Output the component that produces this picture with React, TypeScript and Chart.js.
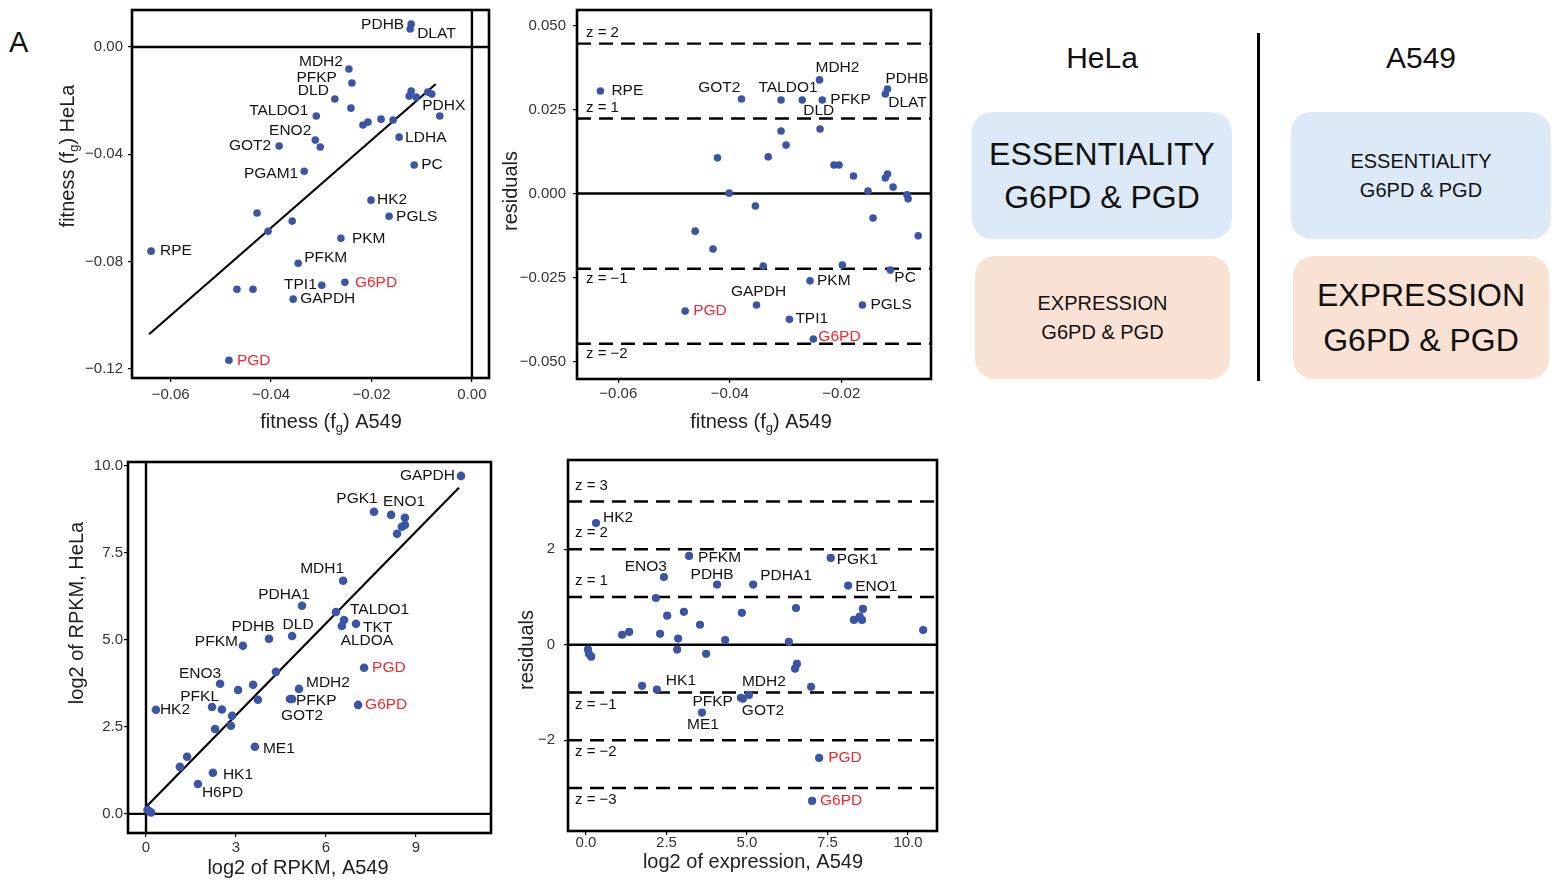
import React, { useEffect, useRef } from 'react';
import { Chart, registerables } from 'chart.js';
Chart.register(...registerables);

const FONT = '"Liberation Sans", Arial, Helvetica, sans-serif';
const DOT = '#3a55a5';
const RED = '#ec2a2f';
const RED_GENES = ['G6PD', 'PGD'];

// ---------- Panel 1: fitness HeLa vs A549 ----------
const p1Genes = ['PDHB', 'DLAT', 'MDH2', 'PFKP', 'DLD', '', 'TALDO1', 'ENO2', '', 'GOT2', 'PGAM1', '', '', '', '', '', '', '', '', '', 'PDHX', 'LDHA', 'PC', 'HK2', 'PGLS', '', '', '', 'PKM', 'RPE', 'PFKM', 'TPI1', 'G6PD', '', '', 'GAPDH', 'PGD'];
const p1FitA549 = [-0.0121, -0.0123, -0.0245, -0.0239, -0.0273, -0.0241, -0.031, -0.0312, -0.0302, -0.0384, -0.0334, -0.0217, -0.0207, -0.0181, -0.0157, -0.0121, -0.0125, -0.0111, -0.0088, -0.008, -0.0064, -0.0145, -0.0115, -0.0201, -0.0165, -0.0428, -0.0358, -0.0406, -0.0261, -0.0639, -0.0346, -0.0299, -0.0253, -0.0468, -0.0436, -0.0356, -0.0484];
const p1FitHeLa = [0.0086, 0.0067, -0.0082, -0.0134, -0.0194, -0.0228, -0.0257, -0.0347, -0.0373, -0.0369, -0.0463, -0.0291, -0.028, -0.0269, -0.0272, -0.0164, -0.0183, -0.0187, -0.0168, -0.0175, -0.0257, -0.0336, -0.044, -0.0571, -0.0631, -0.0619, -0.0649, -0.0687, -0.0713, -0.0761, -0.0806, -0.0888, -0.0877, -0.0903, -0.0903, -0.094, -0.1168];
const p1XTicks = [-0.06, -0.04, -0.02, 0.0];
const p1XTickLabels = ['\u22120.06', '\u22120.04', '\u22120.02', '0.00'];
const p1YTicks = [0.0, -0.04, -0.08, -0.12];
const p1YTickLabels = ['0.00', '\u22120.04', '\u22120.08', '\u22120.12'];
const p1FitLineX = [-0.0643, -0.0072];
const p1FitLineY = [-0.1071, -0.0138];

// ---------- Panel 2: residuals of fitness ----------
const p2Genes = ['RPE', 'GOT2', 'TALDO1', 'DLD', 'MDH2', 'PFKP', '', 'PDHB', 'DLAT', '', '', '', '', '', '', '', '', '', '', '', '', '', '', '', '', '', '', '', '', '', 'PC', 'PKM', 'GAPDH', 'PGLS', 'PGD', 'TPI1', 'G6PD'];
const p2FitA549 = [-0.0632, -0.0379, -0.0308, -0.027, -0.0239, -0.0234, -0.0238, -0.0117, -0.0121, -0.0308, -0.0299, -0.0422, -0.0331, -0.0213, -0.0204, -0.0178, -0.0152, -0.0121, -0.0117, -0.0107, -0.0401, -0.0082, -0.008, -0.0354, -0.0143, -0.0062, -0.0462, -0.043, -0.034, -0.0198, -0.0112, -0.0256, -0.0352, -0.0162, -0.048, -0.0293, -0.025];
const p2Resid = [0.0305, 0.0281, 0.0278, 0.0278, 0.0338, 0.0278, 0.0192, 0.0311, 0.0296, 0.0186, 0.0144, 0.0106, 0.0109, 0.0085, 0.0085, 0.0052, 0.0007, 0.0046, 0.0058, 0.0019, 0.0001, -0.0004, -0.0016, -0.0037, -0.0073, -0.0126, -0.0112, -0.0165, -0.0216, -0.0213, -0.0228, -0.026, -0.0332, -0.0332, -0.035, -0.0374, -0.0433];
const p2XTicks = [-0.06, -0.04, -0.02];
const p2XTickLabels = ['\u22120.06', '\u22120.04', '\u22120.02'];
const p2YTicks = [0.05, 0.025, 0.0, -0.025, -0.05];
const p2YTickLabels = ['0.050', '0.025', '0.000', '\u22120.025', '\u22120.050'];
const p2ZValues = [0.0446, 0.0223, -0.0224, -0.0447];
const p2ZLabels = ['z = 2', 'z = 1', 'z = \u22121', 'z = \u22122'];

// ---------- Panel 3: expression HeLa vs A549 ----------
const p3Genes = ['GAPDH', 'PGK1', 'ENO1', '', '', '', '', 'MDH1', 'PDHA1', '', 'TALDO1', 'ALDOA', 'TKT', 'PDHB', 'DLD', 'PFKM', '', 'PGD', 'ENO3', '', '', 'MDH2', '', 'PFKP', 'GOT2', 'G6PD', 'HK2', 'PFKL', '', '', '', '', 'ME1', '', '', 'HK1', 'H6PD', '', '', '', ''];
const p3RpkmA549 = [10.5, 7.6, 8.17, 8.63, 8.63, 8.53, 8.37, 6.57, 5.2, 6.33, 6.6, 6.53, 7.0, 4.1, 4.87, 3.23, 4.33, 7.27, 2.47, 3.57, 3.07, 5.1, 3.73, 4.8, 4.87, 7.07, 0.33, 2.2, 2.53, 2.87, 2.3, 2.83, 3.63, 1.37, 1.13, 2.23, 1.73, 0.07, 0.13, 0.05, 0.17];
const p3RpkmHeLa = [9.71, 8.68, 8.59, 8.51, 8.3, 8.25, 8.05, 6.7, 5.98, 5.8, 5.57, 5.4, 5.46, 5.03, 5.11, 4.83, 4.08, 4.2, 3.74, 3.71, 3.56, 3.59, 3.28, 3.3, 3.3, 3.13, 2.99, 3.07, 3.0, 2.82, 2.44, 2.53, 1.93, 1.64, 1.35, 1.18, 0.86, 0.09, 0.06, 0.12, 0.04];
const p3XTicks = [0, 3, 6, 9];
const p3XTickLabels = ['0', '3', '6', '9'];
const p3YTicks = [0, 2.5, 5, 7.5, 10];
const p3YTickLabels = ['0.0', '2.5', '5.0', '7.5', '10.0'];
const p3FitLineX = [0, 10.43];
const p3FitLineY = [0.2, 9.37];

// ---------- Panel 4: residuals of expression ----------
const p4Genes = ['HK2', 'PFKM', 'PGK1', 'ENO3', 'PDHB', 'PDHA1', 'ENO1', '', '', '', '', '', '', '', '', '', '', '', '', '', '', '', '', '', '', '', '', '', '', '', '', '', 'HK1', '', 'MDH2', 'PFKP', 'GOT2', 'ME1', 'PGD', 'G6PD'];
const p4ExprA549 = [0.31, 3.2, 7.6, 2.42, 4.07, 5.19, 8.14, 2.17, 6.52, 8.6, 8.32, 8.57, 8.5, 3.04, 4.84, 2.52, 3.54, 10.47, 1.12, 1.34, 2.3, 2.86, 4.32, 6.3, 0.06, 0.09, 0.16, 2.83, 3.73, 6.55, 6.49, 1.74, 2.2, 6.99, 5.06, 4.81, 4.87, 3.6, 7.24, 7.02];
const p4Resid = [2.55, 1.86, 1.82, 1.42, 1.26, 1.26, 1.24, 0.98, 0.77, 0.75, 0.52, 0.52, 0.59, 0.69, 0.67, 0.61, 0.42, 0.31, 0.21, 0.27, 0.23, 0.13, 0.1, 0.06, -0.1, -0.19, -0.25, -0.1, -0.19, -0.4, -0.5, -0.86, -0.94, -0.88, -1.05, -1.11, -1.13, -1.42, -2.37, -3.27];
const p4XTicks = [0, 2.5, 5, 7.5, 10];
const p4XTickLabels = ['0.0', '2.5', '5.0', '7.5', '10.0'];
const p4YTicks = [2, 0, -2];
const p4YTickLabels = ['2', '0', '\u22122'];
const p4ZValues = [3, 2, 1, -1, -2, -3];
const p4ZLabels = ['z = 3', 'z = 2', 'z = 1', 'z = \u22121', 'z = \u22122', 'z = \u22123'];

// ---------- label placement (dx, dy, align) ----------
type Place = [number, number, CanvasTextAlign];
const p1Place: Record<string, Place> = {
  PDHB: [-7, 1, 'right'], DLAT: [7, 5, 'left'], MDH2: [-6, -7, 'right'], PFKP: [-15, -5, 'right'],
  DLD: [-6, -8, 'right'], TALDO1: [-8, -5, 'right'], ENO2: [-4, -9, 'right'], GOT2: [-8, 0, 'right'],
  PGAM1: [-6, 3, 'right'], PDHX: [4, -10, 'center'], LDHA: [6, 1, 'left'], PC: [7, 0, 'left'],
  HK2: [6, 0, 'left'], PGLS: [7, 0, 'left'], PKM: [11, 0, 'left'], RPE: [9, 0, 'left'],
  PFKM: [6, -5, 'left'], TPI1: [-5, 0, 'right'], G6PD: [10, 0, 'left'], GAPDH: [7, 0, 'left'], PGD: [8, 0, 'left'],
};
const p2Place: Record<string, Place> = {
  RPE: [11, 0, 'left'], GOT2: [-1, -11, 'right'], TALDO1: [7, -12, 'center'], DLD: [1, 11, 'left'],
  MDH2: [-4, -12, 'left'], PFKP: [8, 0, 'left'], PDHB: [-2, -10, 'left'], DLAT: [3, 9, 'left'],
  PC: [4, 8, 'left'], PKM: [7, 0, 'left'], GAPDH: [2, -13, 'center'], PGLS: [8, 0, 'left'],
  PGD: [8, 0, 'left'], TPI1: [6, 0, 'left'], G6PD: [5, -2, 'left'],
};
const p3Place: Record<string, Place> = {
  GAPDH: [-6, 0, 'right'], PGK1: [-17, -13, 'center'], ENO1: [13, -13, 'center'], MDH1: [1, -12, 'right'],
  PDHA1: [-18, -11, 'center'], TALDO1: [6, -10, 'left'], ALDOA: [25, 15, 'center'], TKT: [7, 4, 'left'],
  PDHB: [-16, -12, 'center'], DLD: [6, -11, 'center'], PFKM: [-5, -4, 'right'], PGD: [8, 0, 'left'],
  ENO3: [1, -10, 'right'], MDH2: [7, -6, 'left'], PFKL: [7, -10, 'right'], HK2: [4, 0, 'left'],
  PFKP: [6, 2, 'left'], GOT2: [10, 17, 'center'], G6PD: [7, 0, 'left'], ME1: [8, 2, 'left'],
  HK1: [10, 2, 'left'], H6PD: [4, 9, 'left'],
};
const p4Place: Record<string, Place> = {
  HK2: [7, -5, 'left'], PFKM: [9, 2, 'left'], PGK1: [6, 2, 'left'], ENO3: [3, -10, 'right'],
  PDHB: [-5, -10, 'center'], PDHA1: [7, -9, 'left'], ENO1: [7, 1, 'left'], HK1: [9, -9, 'left'],
  MDH2: [-7, -13, 'left'], PFKP: [-8, 4, 'right'], GOT2: [-1, 12, 'left'], ME1: [1, 12, 'center'],
  PGD: [9, 0, 'left'], G6PD: [8, 0, 'left'],
};

type TitlePart = { t: string; sub?: boolean };
interface Line { x: number[]; y: number[]; dash?: number[]; w?: number }
interface Spec {
  box: { left: number; top: number; width: number; height: number };
  area: { left: number; top: number; right: number; bottom: number };
  xs: number[]; ys: number[]; genes: string[]; place: Record<string, Place>;
  xRange: [number, number]; yRange: [number, number];
  xTicks: number[]; xTickLabels: string[]; yTicks: number[]; yTickLabels: string[];
  xPad: number; yPad: number;
  lines: Line[];
  zValues?: number[]; zLabels?: string[]; zAbove: number; zBelow: number; zX: number;
  xTitle: TitlePart[]; xTitlePos: [number, number];
  yTitle: TitlePart[]; yTitlePos: [number, number];
  r: number;
}

function drawTitle(ctx: CanvasRenderingContext2D, parts: TitlePart[], cx: number, cy: number, rotate: boolean) {
  ctx.save();
  ctx.translate(cx, cy);
  if (rotate) ctx.rotate(-Math.PI / 2);
  const main = `20px ${FONT}`;
  const sub = `13px ${FONT}`;
  let total = 0;
  const widths = parts.map((p) => {
    ctx.font = p.sub ? sub : main;
    const w = ctx.measureText(p.t).width;
    total += w;
    return w;
  });
  let x = -total / 2;
  ctx.textBaseline = 'middle';
  ctx.textAlign = 'left';
  ctx.fillStyle = '#222';
  parts.forEach((p, i) => {
    ctx.font = p.sub ? sub : main;
    ctx.fillText(p.t, x, p.sub ? 6 : 0);
    x += widths[i];
  });
  ctx.restore();
}

const tickFont = { family: FONT, size: 15 };

function Panel({ spec }: { spec: Spec }) {
  const ref = useRef<HTMLCanvasElement>(null);
  useEffect(() => {
    const canvas = ref.current;
    if (!canvas) return;
    const { box, area } = spec;
    const overlay = {
      id: 'overlay',
      afterDatasetsDraw(chart: any) {
        const ctx: CanvasRenderingContext2D = chart.ctx;
        const ca = chart.chartArea;
        const xs = chart.scales.x;
        const ys = chart.scales.y;
        ctx.save();
        if (spec.zValues && spec.zLabels) {
          ctx.font = `15px ${FONT}`;
          ctx.fillStyle = '#111';
          ctx.textAlign = 'left';
          ctx.textBaseline = 'middle';
          spec.zValues.forEach((v, i) => {
            const py = ys.getPixelForValue(v) + (v > 0 ? spec.zAbove : spec.zBelow);
            ctx.fillText(spec.zLabels![i], ca.left + spec.zX, py);
          });
        }
        ctx.font = `15.5px ${FONT}`;
        ctx.textBaseline = 'middle';
        spec.genes.forEach((g, i) => {
          if (!g) return;
          const px = xs.getPixelForValue(spec.xs[i]);
          const py = ys.getPixelForValue(spec.ys[i]);
          const pl = spec.place[g] || [7, 0, 'left'];
          ctx.fillStyle = RED_GENES.includes(g) ? RED : '#141414';
          ctx.textAlign = pl[2];
          ctx.fillText(g, px + pl[0], py + pl[1]);
        });
        ctx.strokeStyle = '#000';
        ctx.lineWidth = 2.6;
        ctx.strokeRect(ca.left, ca.top, ca.right - ca.left, ca.bottom - ca.top);
        drawTitle(ctx, spec.xTitle, spec.xTitlePos[0] - box.left, spec.xTitlePos[1] - box.top, false);
        drawTitle(ctx, spec.yTitle, spec.yTitlePos[0] - box.left, spec.yTitlePos[1] - box.top, true);
        ctx.restore();
      },
    };
    const findLabel = (ticks: number[], labels: string[], v: number) => {
      const i = ticks.findIndex((t) => Math.abs(t - v) < 1e-9);
      return i >= 0 ? labels[i] : '';
    };
    const chart = new Chart(canvas, {
      type: 'scatter',
      data: {
        datasets: [
          {
            data: spec.xs.map((x, i) => ({ x, y: spec.ys[i] })),
            pointRadius: spec.r,
            pointBackgroundColor: DOT,
            pointBorderWidth: 0,
            borderWidth: 0,
          } as any,
          ...spec.lines.map((l) => ({
            data: l.x.map((x, i) => ({ x, y: l.y[i] })),
            showLine: true,
            borderColor: '#000',
            borderWidth: l.w ?? 2.2,
            borderDash: l.dash ?? [],
            pointRadius: 0,
            fill: false,
          })),
        ],
      },
      options: {
        animation: false,
        responsive: false,
        devicePixelRatio: 1,
        events: [],
        layout: {
          padding: { left: 0, top: area.top - box.top, right: box.left + box.width - area.right, bottom: 0 },
        },
        scales: {
          x: {
            type: 'linear',
            min: spec.xRange[0],
            max: spec.xRange[1],
            afterBuildTicks: (s: any) => {
              s.ticks = spec.xTicks.map((v) => ({ value: v }));
            },
            afterFit: (s: any) => {
              s.height = box.top + box.height - area.bottom;
              s.paddingLeft = 0; s.paddingRight = 0; s.paddingTop = 0; s.paddingBottom = 0;
            },
            ticks: {
              callback: (v: any) => findLabel(spec.xTicks, spec.xTickLabels, Number(v)),
              font: tickFont,
              color: '#333',
              padding: spec.xPad,
              maxRotation: 0,
              autoSkip: false,
            },
            grid: { drawOnChartArea: false, drawTicks: true, tickLength: 4, color: '#000', lineWidth: 1.2 },
            border: { display: false },
          },
          y: {
            type: 'linear',
            min: spec.yRange[0],
            max: spec.yRange[1],
            afterBuildTicks: (s: any) => {
              s.ticks = spec.yTicks.map((v) => ({ value: v }));
            },
            afterFit: (s: any) => {
              s.width = area.left - box.left;
              s.paddingLeft = 0; s.paddingRight = 0; s.paddingTop = 0; s.paddingBottom = 0;
            },
            ticks: {
              callback: (v: any) => findLabel(spec.yTicks, spec.yTickLabels, Number(v)),
              font: tickFont,
              color: '#333',
              padding: spec.yPad,
              autoSkip: false,
            },
            grid: { drawOnChartArea: false, drawTicks: true, tickLength: 4, color: '#000', lineWidth: 1.2 },
            border: { display: false },
          },
        },
        plugins: { legend: { display: false }, tooltip: { enabled: false } },
      } as any,
      plugins: [overlay],
    });
    return () => chart.destroy();
  }, [spec]);
  return (
    <canvas
      ref={ref}
      width={spec.box.width}
      height={spec.box.height}
      style={{ position: 'absolute', left: spec.box.left, top: spec.box.top, width: spec.box.width, height: spec.box.height }}
    />
  );
}

const fitTitleA549: TitlePart[] = [{ t: 'fitness (f' }, { t: 'g', sub: true }, { t: ') A549' }];
const fitTitleHeLa: TitlePart[] = [{ t: 'fitness (f' }, { t: 'g', sub: true }, { t: ') HeLa' }];

const p1X: [number, number] = [-0.0677, 0.0034];
const p1Y: [number, number] = [-0.1234, 0.0138];
const p2X: [number, number] = [-0.0674, -0.0039];
const p2Y: [number, number] = [-0.0552, 0.0546];
const p3X: [number, number] = [-0.6, 11.5];
const p3Y: [number, number] = [-0.55, 10.11];
const p4X: [number, number] = [-0.56, 10.9];
const p4Y: [number, number] = [-3.9, 3.87];

const spec1: Spec = {
  box: { left: 40, top: 0, width: 460, height: 440 },
  area: { left: 132, top: 10, right: 489, bottom: 378 },
  xs: p1FitA549, ys: p1FitHeLa, genes: p1Genes, place: p1Place,
  xRange: p1X, yRange: p1Y,
  xTicks: p1XTicks, xTickLabels: p1XTickLabels, yTicks: p1YTicks, yTickLabels: p1YTickLabels,
  xPad: 4, yPad: 5,
  lines: [
    { x: p1X, y: [0, 0], w: 2.4 },
    { x: [0, 0], y: p1Y, w: 2.4 },
    { x: p1FitLineX, y: p1FitLineY },
  ],
  zAbove: 0, zBelow: 0, zX: 0,
  xTitle: fitTitleA549, xTitlePos: [331, 422],
  yTitle: fitTitleHeLa, yTitlePos: [68, 156],
  r: 3.8,
};

const spec2: Spec = {
  box: { left: 500, top: 0, width: 450, height: 440 },
  area: { left: 577, top: 10, right: 931, bottom: 379 },
  xs: p2FitA549, ys: p2Resid, genes: p2Genes, place: p2Place,
  xRange: p2X, yRange: p2Y,
  xTicks: p2XTicks, xTickLabels: p2XTickLabels, yTicks: p2YTicks, yTickLabels: p2YTickLabels,
  xPad: 2, yPad: 7,
  lines: [
    { x: p2X, y: [0, 0], w: 2.4 },
    ...p2ZValues.map((v) => ({ x: p2X, y: [v, v], dash: [14, 8], w: 2.4 })),
  ],
  zValues: p2ZValues, zLabels: p2ZLabels, zAbove: -11, zBelow: 10, zX: 9,
  xTitle: fitTitleA549, xTitlePos: [761, 422],
  yTitle: [{ t: 'residuals' }], yTitlePos: [511, 191],
  r: 3.8,
};

const spec3: Spec = {
  box: { left: 40, top: 450, width: 460, height: 434 },
  area: { left: 128, top: 462, right: 491, bottom: 833 },
  xs: p3RpkmA549, ys: p3RpkmHeLa, genes: p3Genes, place: p3Place,
  xRange: p3X, yRange: p3Y,
  xTicks: p3XTicks, xTickLabels: p3XTickLabels, yTicks: p3YTicks, yTickLabels: p3YTickLabels,
  xPad: 2, yPad: 1,
  lines: [
    { x: p3X, y: [0, 0], w: 2.4 },
    { x: [0, 0], y: p3Y, w: 2.4 },
    { x: p3FitLineX, y: p3FitLineY },
  ],
  zAbove: 0, zBelow: 0, zX: 0,
  xTitle: [{ t: 'log2 of RPKM, A549' }], xTitlePos: [298, 868],
  yTitle: [{ t: 'log2 of RPKM, HeLa' }], yTitlePos: [77, 613],
  r: 4.3,
};

const spec4: Spec = {
  box: { left: 505, top: 450, width: 445, height: 434 },
  area: { left: 568, top: 460, right: 937, bottom: 831 },
  xs: p4ExprA549, ys: p4Resid, genes: p4Genes, place: p4Place,
  xRange: p4X, yRange: p4Y,
  xTicks: p4XTicks, xTickLabels: p4XTickLabels, yTicks: p4YTicks, yTickLabels: p4YTickLabels,
  xPad: -1, yPad: 9,
  lines: [
    { x: p4X, y: [0, 0], w: 2.4 },
    ...p4ZValues.map((v) => ({ x: p4X, y: [v, v], dash: [14, 8], w: 2.4 })),
  ],
  zValues: p4ZValues, zLabels: p4ZLabels, zAbove: -16, zBelow: 12, zX: 7,
  xTitle: [{ t: 'log2 of expression, A549' }], xTitlePos: [753, 862],
  yTitle: [{ t: 'residuals' }], yTitlePos: [527, 650],
  r: 4.1,
};

const BLUE_BOX = '#dce9f6';
const PEACH_BOX = '#f9e2d4';

function Card({ left, top, width, height, bg, lines, size, lh }: { left: number; top: number; width: number; height: number; bg: string; lines: string[]; size: number; lh: number }) {
  return (
    <div
      style={{
        position: 'absolute', left, top, width, height, background: bg, borderRadius: 20,
        display: 'flex', flexDirection: 'column', alignItems: 'center', justifyContent: 'center',
        fontSize: size, lineHeight: `${lh}px`, color: '#111', textAlign: 'center',
      }}
    >
      {lines.map((l, i) => (
        <div key={i}>{l}</div>
      ))}
    </div>
  );
}

export default function App() {
  return (
    <div style={{ position: 'fixed', left: 0, top: 0, width: 1556, height: 884, background: '#fff', fontFamily: FONT, overflow: 'hidden' }}>
      <div style={{ position: 'absolute', left: 9, top: 25, fontSize: 29, lineHeight: '34px', color: '#111' }}>A</div>
      <Panel spec={spec1} />
      <Panel spec={spec2} />
      <Panel spec={spec3} />
      <Panel spec={spec4} />
      <div style={{ position: 'absolute', left: 972, top: 40, width: 260, textAlign: 'center', fontSize: 30, lineHeight: '36px', color: '#111' }}>HeLa</div>
      <div style={{ position: 'absolute', left: 1291, top: 40, width: 260, textAlign: 'center', fontSize: 30, lineHeight: '36px', color: '#111' }}>A549</div>
      <div style={{ position: 'absolute', left: 1257, top: 33, width: 3, height: 348, background: '#000' }} />
      <Card left={972} top={112} width={260} height={127} bg={BLUE_BOX} lines={['ESSENTIALITY', 'G6PD & PGD']} size={32} lh={43} />
      <Card left={975} top={256} width={255} height={123} bg={PEACH_BOX} lines={['EXPRESSION', 'G6PD & PGD']} size={20} lh={29} />
      <Card left={1291} top={112} width={260} height={127} bg={BLUE_BOX} lines={['ESSENTIALITY', 'G6PD & PGD']} size={20} lh={29} />
      <Card left={1293} top={256} width={256} height={123} bg={PEACH_BOX} lines={['EXPRESSION', 'G6PD & PGD']} size={32} lh={45} />
    </div>
  );
}
